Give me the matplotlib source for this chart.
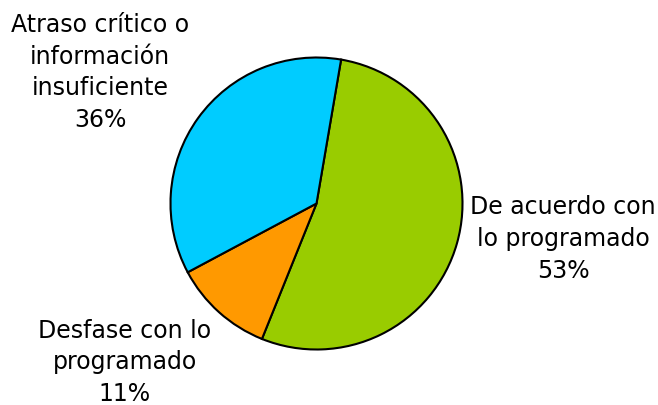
import matplotlib
matplotlib.use("Agg")
import matplotlib.pyplot as plt

labels = ["De acuerdo con\nlo programado", "Desfase con lo\nprogramado", "Atraso crítico o\ninformación\ninsuficiente"]
pct_text = ["53%", "11%", "36%"]
values = [53.4, 11.1, 35.5]
colors = ["#99CC00", "#FF9900", "#00CCFF"]
# label centres (data units, pie radius = 1)
label_pos = [(1.688, -0.243), (-1.312, -1.088), (-1.483, 0.898)]

fig = plt.figure(figsize=(6.58, 4.05), dpi=100)
ax = fig.add_axes([0, 0, 1, 1])

wedges, texts = ax.pie(values, labels=[f"{l}\n{p}" for l, p in zip(labels, pct_text)],
                       colors=colors, startangle=80.3, counterclock=False,
                       wedgeprops=dict(edgecolor="black", linewidth=1.5),
                       textprops=dict(fontsize=17, linespacing=1.4))
for t, p in zip(texts, label_pos):
    t.set_position(p)
    t.set_ha("center")
    t.set_va("center")
    t.set_multialignment("center")

ax.set_xlim(-316.5 / 146, 341.5 / 146)
ax.set_ylim(-201.5 / 146, 203.5 / 146)
ax.set_aspect("equal")
ax.axis("off")

fig.savefig("out.png", dpi=100)
